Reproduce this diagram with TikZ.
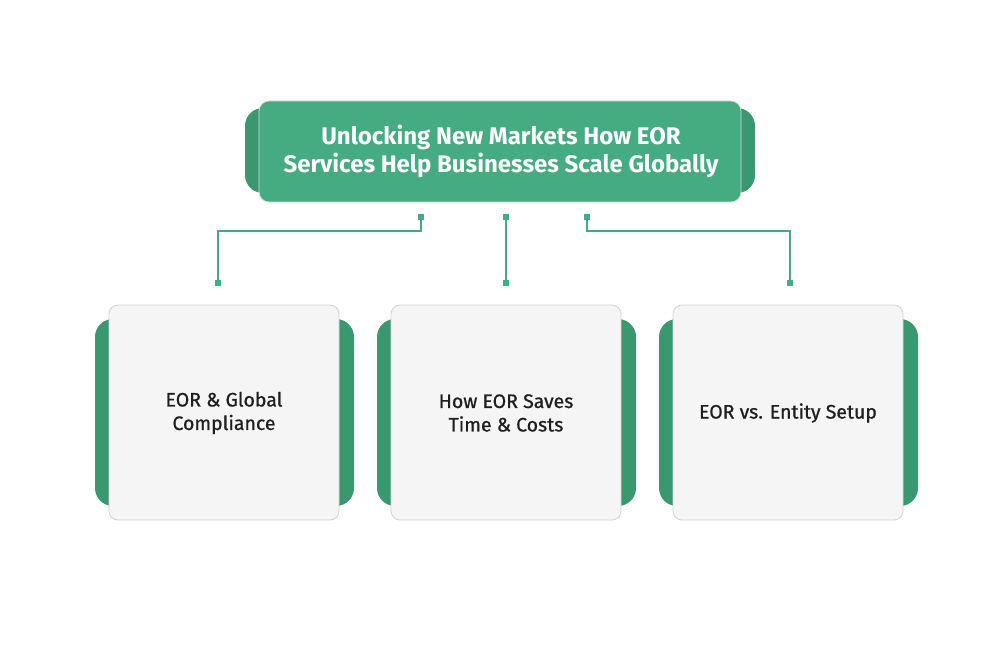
\documentclass[tikz,border=0pt]{standalone}
\usepackage{fontspec}
\setmainfont{Fira Sans}
\newfontfamily\medfont{Fira Sans}[FakeBold=0.8]
\usepackage{tikz}
\definecolor{eorgreen}{RGB}{69,171,128}
\definecolor{eordark}{RGB}{58,152,112}
\definecolor{cardfill}{RGB}{245,245,245}
\tikzset{
  tab/.style={fill=eordark, rounded corners=18pt},
  card/.style={fill=cardfill, draw=gray!35, line width=0.8pt, rounded corners=9pt},
  cardtext/.style={align=center, font=\medfont\fontsize{19.5}{23.5}\selectfont, text=black!88},
  link/.style={draw=eorgreen, line width=1.4pt},
  dot/.style={fill=eorgreen, minimum size=6.5pt, inner sep=0pt, draw=none, rectangle},
}
\begin{document}
\begin{tikzpicture}[x=1pt, y=-1pt]
  \useasboundingbox[fill=white] (0,0) rectangle (998,652);
  % title
  \fill[tab] (245,108) rectangle (755,193);
  \draw[fill=eorgreen, draw=gray!30, line width=0.8pt, rounded corners=10pt] (259,101) rectangle (741,202);
  \node (title) at (501,151) [align=center, text=white, font=\bfseries\fontsize{24}{28}\selectfont]
    {Unlocking New Markets How EOR\\Services Help Businesses Scale Globally};
  % cards
  \foreach \x/\n in {224/a, 506/b, 788/c} {
    \fill[tab] (\x-129,319) rectangle (\x+130,506);
    \draw[card] (\x-115,305) rectangle (\x+115,520);
  }
  \node (a) at (224,413) [cardtext] {EOR \& Global\\Compliance};
  \node (b) at (506,413) [cardtext] {How EOR Saves\\Time \& Costs};
  \node (c) at (788,413) [cardtext] {EOR vs. Entity Setup};
  % connectors
  \node (t1) at (421,217) [dot] {};
  \node (t2) at (506,217) [dot] {};
  \node (t3) at (587,217) [dot] {};
  \node (b1) at (218,283) [dot] {};
  \node (b2) at (506,283) [dot] {};
  \node (b3) at (790,283) [dot] {};
  \draw[link] (t1.center) -- ++(0,14) -| (b1.center);
  \draw[link] (t2.center) -- (b2.center);
  \draw[link] (t3.center) -- ++(0,14) -| (b3.center);
  \foreach \x in {t1,t2,t3,b1,b2,b3} \node at (\x) [dot] {};
\end{tikzpicture}
\end{document}
